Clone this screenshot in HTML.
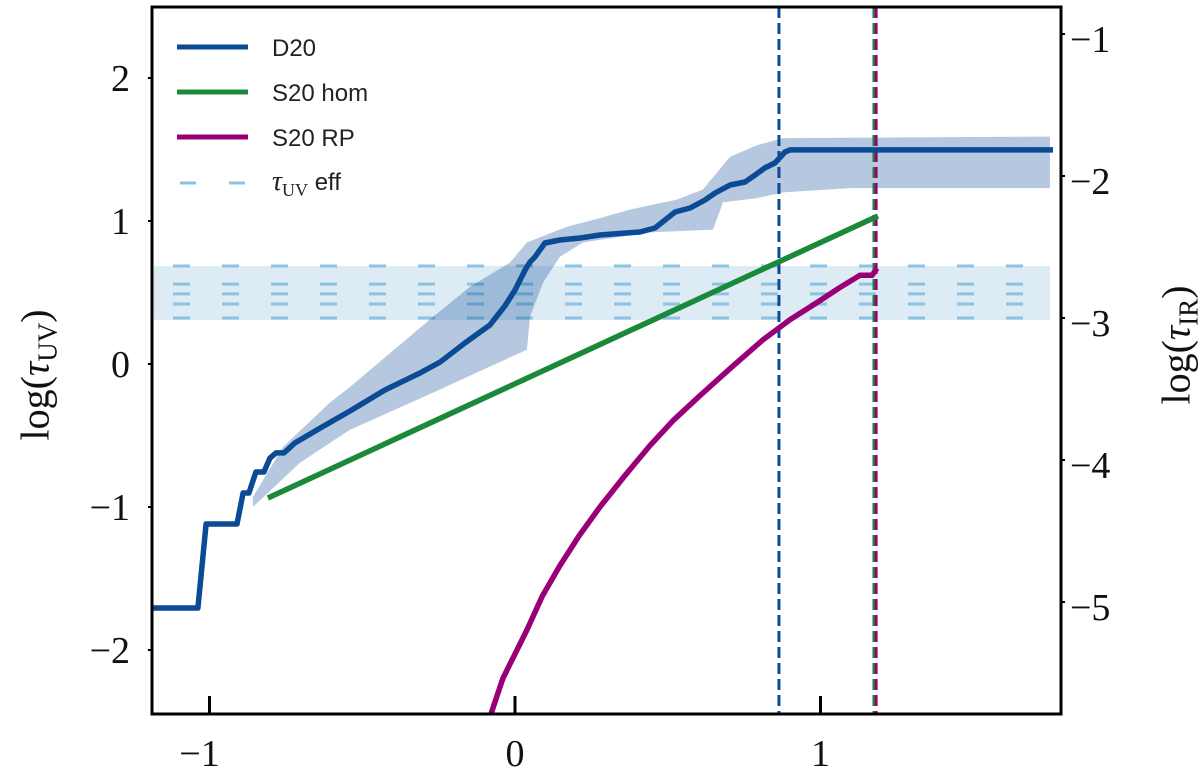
<!DOCTYPE html>
<html><head><meta charset="utf-8"><style>
html,body{margin:0;padding:0;background:#fff;}
svg{display:block;}
.tk{font-family:"Liberation Serif",serif;font-size:38px;fill:#111;}
.lg{font-family:"Liberation Sans",sans-serif;font-size:24px;fill:#222;}
</style></head><body>
<svg id="chart" width="1200" height="775" viewBox="0 0 1200 775" xmlns="http://www.w3.org/2000/svg">
<defs><clipPath id="clip"><rect x="152" y="7" width="909" height="707"/></clipPath></defs>
<g id="plot" clip-path="url(#clip)"></g>
<g id="axes"></g>
<g id="legend"></g>
</svg>
<script>
const xTicks=[-1,0,1];
const xTickLabels=["\u22121","0","1"];
const yTicks=[2,1,0,-1,-2];
const yTickLabels=["2","1","0","\u22121","\u22122"];
const rTicks=[-1,-2,-3,-4,-5];
const rTickLabels=["\u22121","\u22122","\u22123","\u22124","\u22125"];
const d20X=[-1.195,-1.038,-1.011,-0.910,-0.890,-0.871,-0.848,-0.822,-0.802,-0.782,-0.756,-0.720,-0.638,-0.540,-0.426,-0.311,-0.245,-0.164,-0.082,-0.033,0,0.033,0.049,0.065,0.098,0.147,0.213,0.278,0.409,0.458,0.491,0.524,0.573,0.622,0.655,0.704,0.753,0.786,0.818,0.851,0.884,0.900,1.761];
const d20Y=[-1.706,-1.706,-1.119,-1.119,-0.902,-0.902,-0.755,-0.755,-0.657,-0.622,-0.622,-0.552,-0.448,-0.329,-0.182,-0.063,0.014,0.147,0.273,0.406,0.517,0.657,0.713,0.748,0.846,0.867,0.881,0.902,0.923,0.951,1.007,1.063,1.091,1.147,1.196,1.252,1.273,1.322,1.371,1.406,1.483,1.497,1.497];
const bandUpX=[-0.858,-0.759,-0.606,-0.540,-0.268,-0.147,-0.016,0.039,0.170,0.278,0.376,0.530,0.615,0.704,0.792,0.877,1.751];
const bandUpY=[-0.93,-0.58,-0.27,-0.16,0.33,0.54,0.71,0.85,0.96,1.02,1.08,1.15,1.22,1.45,1.53,1.58,1.59];
const bandLoX=[1.751,1.097,0.877,0.792,0.681,0.648,0.442,0.223,0.147,0.092,0.049,0.039,-0.105,-0.268,-0.540,-0.704,-0.858];
const bandLoY=[1.23,1.23,1.20,1.16,1.13,0.94,0.92,0.85,0.75,0.57,0.33,0.10,-0.04,-0.20,-0.46,-0.69,-1.00];
const homX=[-0.809,1.188];
const homY=[-0.937,1.035];
const rpX=[-0.090,-0.040,0.039,0.090,0.147,0.210,0.278,0.360,0.442,0.520,0.606,0.710,0.812,0.900,0.989,1.060,1.129,1.169,1.185];
const rpY=[-2.52,-2.20,-1.86,-1.62,-1.41,-1.20,-1.00,-0.78,-0.57,-0.39,-0.22,-0.02,0.17,0.31,0.43,0.53,0.62,0.62,0.67];
const effBand=[0.308,0.685];
const effLines=[0.685,0.559,0.490,0.420,0.322];
const vLines=[0.864,1.175,1.182];
const vColors=["#0b4a94","#1a8a3a","#990077"];

const L=152,R=1061,T=7,B=714;
function sx(v){return 515+305.5*v;}
function sy(v){return 364-143*v;}
function sr(v){return 34-142*(v+1);}
const NS="http://www.w3.org/2000/svg";
function mk(tag,attrs,parent){const e=document.createElementNS(NS,tag);for(const k in attrs)e.setAttribute(k,attrs[k]);parent.appendChild(e);return e;}
const plot=document.getElementById('plot'),axes=document.getElementById('axes'),leg=document.getElementById('legend');
function pts(xs,ys){return xs.map((x,i)=>sx(x).toFixed(1)+","+sy(ys[i]).toFixed(1)).join(" ");}

let eb=mk('rect',{x:L,y:sy(effBand[1]),width:1050-L,height:sy(effBand[0])-sy(effBand[1]),fill:"#ddebf5"},plot);


effLines.forEach(v=>{
  let l=mk('line',{x1:173,x2:1030,y1:sy(v),y2:sy(v),stroke:"#8cc3e3","stroke-width":3,"stroke-dasharray":"17 32"},plot);
  
  
});
let bp=mk('polygon',{points:pts(bandUpX,bandUpY)+" "+pts(bandLoX,bandLoY),fill:"#0b4a94","fill-opacity":0.3},plot);


vLines.forEach((v,i)=>{
  let l=mk('line',{x1:sx(v),x2:sx(v),y1:T,y2:B,stroke:vColors[i],"stroke-width":3,"stroke-dasharray":"11 5"},plot);
  
  
});
let g=mk('polyline',{points:pts(homX,homY),fill:"none",stroke:"#1a8a3a","stroke-width":5.5},plot);


let p=mk('polyline',{points:pts(rpX,rpY),fill:"none",stroke:"#990077","stroke-width":5.5,"stroke-linejoin":"round"},plot);


let d=mk('polyline',{points:pts(d20X,d20Y),fill:"none",stroke:"#0b4a94","stroke-width":5.5,"stroke-linejoin":"round"},plot);



let fr=mk('rect',{x:L,y:T,width:R-L,height:B-T,fill:"none",stroke:"#000","stroke-width":3},axes);


xTicks.forEach((v,i)=>{
  let t=mk('line',{x1:sx(v),x2:sx(v),y1:B,y2:B-18,stroke:"#000","stroke-width":3},axes);
  
  
  let tx=mk('text',{x:sx(v)-(v<0?10:0),y:B+52,"text-anchor":"middle",class:"tk"},axes);
  tx.textContent=xTickLabels[i];
  
  
});
yTicks.forEach((v,i)=>{
  let t=mk('line',{x1:L-4,x2:L,y1:sy(v),y2:sy(v),stroke:"#000","stroke-width":2},axes);
  
  
  let tx=mk('text',{x:130,y:sy(v)+13,"text-anchor":"end",class:"tk"},axes);
  tx.textContent=yTickLabels[i];
  
  
});
rTicks.forEach((v,i)=>{
  let t=mk('line',{x1:R,x2:R+4,y1:sr(v),y2:sr(v),stroke:"#000","stroke-width":2},axes);
  
  
  let tx=mk('text',{x:1070,y:sr(v)+18,"text-anchor":"start",class:"tk"},axes);
  tx.textContent=rTickLabels[i];
  
  
});
const legNames=["D20","S20 hom","S20 RP"];
const legCols=["#0b4a94","#1a8a3a","#990077"];
const legY=[47,92,137];
legNames.forEach((n,i)=>{
  let l=mk('line',{x1:177,x2:248,y1:legY[i],y2:legY[i],stroke:legCols[i],"stroke-width":5},leg);
  
  
  let t=mk('text',{x:272,y:legY[i]+9,class:"lg"},leg);
  t.textContent=n;
  
  
});
let ld=mk('line',{x1:180,x2:246,y1:183,y2:183,stroke:"#8cc3e3","stroke-width":3,"stroke-dasharray":"16 33"},leg);


</script>
<div style="position:absolute;left:272px;top:166px;font-size:24px;font-family:'Liberation Sans',sans-serif;color:#222;"><span style="font-family:'Liberation Serif',serif;font-style:italic;font-size:28px;">τ</span><span style="font-family:'Liberation Serif',serif;font-size:18px;position:relative;top:6px;">UV</span> eff</div>
<div style="position:absolute;left:35px;top:375px;transform:translate(-50%,-50%) rotate(-90deg);white-space:nowrap;font-family:'Liberation Serif',serif;font-size:40px;color:#111;">log(<i>τ</i><span style="font-size:27px;position:relative;top:8px;">UV</span>)</div>
<div style="position:absolute;left:1176px;top:345px;transform:translate(-50%,-50%) rotate(-90deg);white-space:nowrap;font-family:'Liberation Serif',serif;font-size:40px;color:#111;">log(<i>τ</i><span style="font-size:27px;position:relative;top:8px;">IR</span>)</div>
</body></html>
